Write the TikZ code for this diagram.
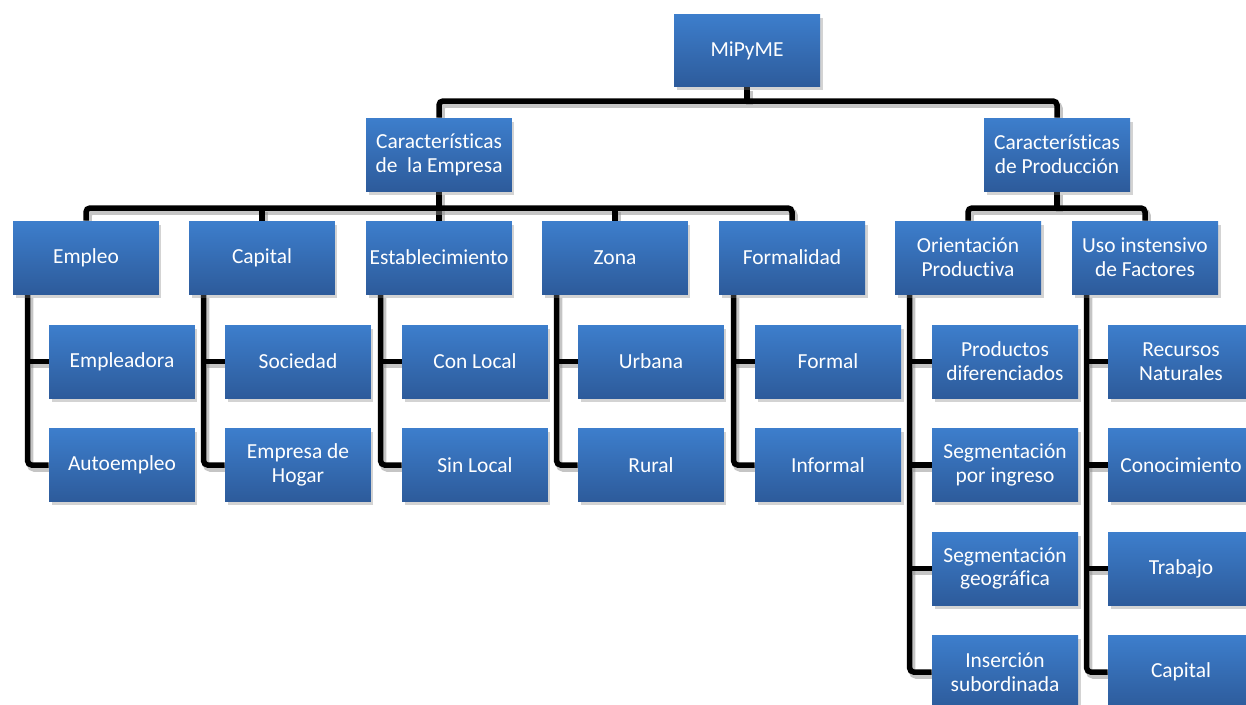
\documentclass[tikz,border=0pt]{standalone}
\usepackage{fontspec}
\setmainfont[Ligatures=NoCommon]{Carlito}
\usetikzlibrary{shadows,backgrounds}

\definecolor{cajaarriba}{RGB}{61,126,204}
\definecolor{cajaabajo}{RGB}{45,91,155}

\tikzset{
  caja/.style={minimum width=2.92cm, minimum height=1.46cm, inner sep=0pt,
    top color=cajaarriba, bottom color=cajaabajo, text=white, align=center,
    font=\fontsize{12.2}{13.6}\selectfont,
    drop shadow={shadow xshift=0.05cm, shadow yshift=-0.07cm, opacity=0.35}},
  linea/.style={line width=0.11cm, rounded corners=0.08cm,
    preaction={draw, black!45, opacity=0.5, line width=0.13cm,
      transform canvas={shift={(0.05cm,-0.07cm)}}}}
}

\begin{document}
\begin{tikzpicture}[x=0.02cm, y=-0.02cm]
\useasboundingbox (0,0) rectangle (1246,704);

% niveles superiores
\node[caja] (mipyme) at (747,50.5) {MiPyME};
\node[caja] (empresa) at (439,154.5) {Características\\de\ \ la Empresa};
\node[caja] (produccion) at (1057,154.5) {Características\\de Producción};

% segundo nivel
\node[caja] (empleo) at (86,257.5) {Empleo};
\node[caja] (capital) at (262,257.5) {Capital};
\node[caja] (estab) at (439,257.5) {Establecimiento};
\node[caja] (zona) at (615,257.5) {Zona};
\node[caja] (formal) at (792,257.5) {Formalidad};
\node[caja] (orient) at (968,257.5) {Orientación\\Productiva};
\node[caja] (uso) at (1145,257.5) {Uso instensivo\\de Factores};

% hojas
\node[caja] (empleadora) at (122,361.5) {Empleadora};
\node[caja] (autoempleo) at (122,465) {Autoempleo};
\node[caja] (sociedad) at (298,361.5) {Sociedad};
\node[caja] (hogar) at (298,465) {Empresa de\\Hogar};
\node[caja] (conlocal) at (475,361.5) {Con Local};
\node[caja] (sinlocal) at (475,465) {Sin Local};
\node[caja] (urbana) at (651,361.5) {Urbana};
\node[caja] (rural) at (651,465) {Rural};
\node[caja] (formalh) at (828,361.5) {Formal};
\node[caja] (informal) at (828,465) {Informal};
\node[caja] (prod) at (1005,361.5) {Productos\\diferenciados};
\node[caja] (segi) at (1005,465) {Segmentación\\por ingreso};
\node[caja] (segg) at (1005,568.5) {Segmentación\\geográfica};
\node[caja] (inser) at (1005,672) {Inserción\\subordinada};
\node[caja] (recursos) at (1181,361.5) {Recursos\\Naturales};
\node[caja] (conoc) at (1181,465) {Conocimiento};
\node[caja] (trabajo) at (1181,568.5) {Trabajo};
\node[caja] (capitalf) at (1181,672) {Capital};

\begin{scope}[on background layer]
\coordinate (b0) at (747,101);
\coordinate (b1) at (439,208);
\coordinate (b2) at (1057,208);
\draw[linea] (mipyme) -- (b0);
\draw[linea] (empresa.north) |- (b0) -| (produccion.north);
\draw[linea] (empresa) -- (estab);
\draw[linea] (empleo.north) |- (b1) -| (formal.north);
\draw[linea] (capital.north) -- (capital.north |- b1);
\draw[linea] (zona.north) -- (zona.north |- b1);
\draw[linea] (produccion) -- (b2);
\draw[linea] (orient.north) |- (b2) -| (uso.north);

% ramas hacia las hojas
\foreach \p/\a/\b in {empleo/empleadora/autoempleo, capital/sociedad/hogar,
    estab/conlocal/sinlocal, zona/urbana/rural, formal/formalh/informal}{
  \draw[linea] ([xshift=0.3cm]\p.south west) |- (\b.west);
  \draw[linea] ([xshift=0.3cm]\p.south west |- \a.west) -- (\a.west);
}
\draw[linea] ([xshift=0.3cm]orient.south west) |- (inser.west);
\foreach \h in {prod,segi,segg}
  \draw[linea] ([xshift=0.3cm]orient.south west |- \h.west) -- (\h.west);
\draw[linea] ([xshift=0.3cm]uso.south west) |- (capitalf.west);
\foreach \h in {recursos,conoc,trabajo}
  \draw[linea] ([xshift=0.3cm]uso.south west |- \h.west) -- (\h.west);
\end{scope}
\end{tikzpicture}
\end{document}
